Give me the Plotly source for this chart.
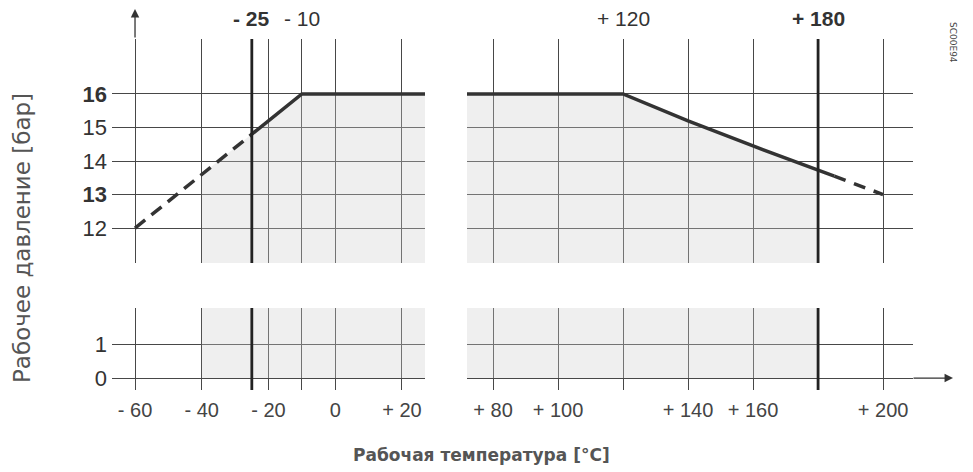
import plotly.graph_objects as go

# ---- data ----
curve_temps = [-60, -25, -10, 120, 140, 160, 180, 185, 200]
curve_pressure = [12.0, 14.8, 16.0, 16.0, 15.2, 14.45, 13.72, 13.55, 13.0]

fill_temps = [-40, -25, -10, 120, 140, 160, 180]
fill_pressure = [13.6, 14.8, 16.0, 16.0, 15.2, 14.45, 13.72]

left_ticks = [-60, -40, -25, -20, -10, 0, 20]
left_labels = ["- 60", "- 40", "", "- 20", "", "0", "+ 20"]
right_ticks = [80, 100, 120, 140, 160, 180, 200]
right_labels = ["+ 80", "+ 100", "", "+ 140", "+ 160", "", "+ 200"]

top_marks = [-25, -10, 120, 180]
top_mark_labels = ["- 25", "- 10", "+ 120", "+ 180"]
top_mark_bold = [True, False, False, True]
limit_temps = [-25, 180]

upper_p_ticks = [12, 13, 14, 15, 16]
upper_p_labels = ["12", "<b>13</b>", "14", "15", "<b>16</b>"]
lower_p_ticks = [0, 1]
lower_p_labels = ["0", "1"]

y_title = "Рабочее давление [бар]"
x_title = "Рабочая температура [°C]"
code_text = "SC00E94"

OFF = 8  # page body margin
W, H = 973 - OFF, 472 - OFF
def px(x): return (x - OFF) / W
def py(y): return 1 - (y - OFF) / H

GRID = "#474747"
LINE = "#333333"
FILL = "rgba(205,205,205,0.33)"

fig = go.Figure()

# shaded area under the curve in all four panels
for xa in ["x", "x2"]:
    for ya in ["y", "y2"]:
        fig.add_trace(go.Scatter(x=fill_temps, y=fill_pressure, xaxis=xa, yaxis=ya,
                                 mode="lines", line=dict(width=0), fill="tozeroy",
                                 fillcolor=FILL, hoverinfo="skip", showlegend=False))

# curve: dashed - solid - dashed
segs = [(0, 2, "13px,8px"), (1, 8, "solid"), (7, 9, "12px,9px")]
for xa in ["x", "x2"]:
    for a, b, d in segs:
        fig.add_trace(go.Scatter(x=curve_temps[a:b], y=curve_pressure[a:b], xaxis=xa, yaxis="y",
                                 mode="lines", line=dict(color=LINE, width=3.5, dash=d),
                                 hoverinfo="skip", showlegend=False))

tickfont_x = dict(family="Liberation Sans, Arial", size=20, color="#444")
tickfont_y = dict(family="Liberation Sans, Arial", size=22, color="#333")

common_x = dict(showgrid=True, gridcolor=GRID, gridwidth=1, zeroline=False, showline=False,
                ticks="", tickfont=tickfont_x, anchor="y2", fixedrange=True, ticklabelstandoff=6)
common_y = dict(showgrid=True, gridcolor=GRID, gridwidth=1, zeroline=False, showline=False,
                ticks="", tickfont=tickfont_y, fixedrange=True, anchor="x", ticklabelstandoff=4)
fig.update_layout(
    width=W, height=H, margin=dict(l=0, r=0, t=0, b=0),
    paper_bgcolor="white", plot_bgcolor="rgba(0,0,0,0)", showlegend=False,
    xaxis=dict(domain=[px(112), px(425)], range=[-66.9, 26.9], tickmode="array",
               tickvals=left_ticks, ticktext=left_labels, **common_x),
    xaxis2=dict(domain=[px(467), px(913)], range=[72, 209.2], tickmode="array",
                tickvals=right_ticks, ticktext=right_labels, **common_x),
    yaxis=dict(domain=[py(263), py(39)], range=[10.96, 17.64], tickmode="array",
               tickvals=upper_p_ticks, ticktext=upper_p_labels, **common_y),
    yaxis2=dict(domain=[py(390), py(308)], range=[-0.35, 2.06], tickmode="array",
                tickvals=lower_p_ticks, ticktext=lower_p_labels, **common_y),
)

# thick limit lines
shapes = []
for t in limit_temps:
    xa = "x" if t < 50 else "x2"
    for ya in ["y", "y2"]:
        shapes.append(dict(type="line", xref=xa, yref=ya + " domain", x0=t, x1=t, y0=0, y1=1,
                           line=dict(color="#222", width=2.8)))
fig.update_layout(shapes=shapes)

ann = []
for t, lab, b in zip(top_marks, top_mark_labels, top_mark_bold):
    ann.append(dict(x=t, xref="x" if t < 50 else "x2", y=py(18), yref="paper",
                    xanchor="center", yanchor="middle",
                    text=f"<b>{lab}</b>" if b else lab, showarrow=False,
                    font=dict(family="Liberation Sans, Arial", size=21, color="#333")))
# axis arrows
ann.append(dict(x=-60, xref="x", y=py(8), yref="paper", ax=0, ay=31, text="",
                showarrow=True, arrowhead=2, arrowsize=1.3, arrowwidth=1.3, arrowcolor="#333"))
ann.append(dict(x=px(953), xref="paper", y=0, yref="y2", ax=-41, ay=0, text="",
                showarrow=True, arrowhead=2, arrowsize=1.3, arrowwidth=1.3, arrowcolor="#333"))
ann.append(dict(x=px(22), xref="paper", y=py(238), yref="paper", text=y_title, textangle=-90,
                xanchor="center", yanchor="middle",
                showarrow=False, font=dict(family="DejaVu Sans", size=23, color="#555")))
ann.append(dict(x=px(481), xref="paper", y=py(455), yref="paper", text=f"<b>{x_title}</b>",
                xanchor="center", yanchor="middle",
                showarrow=False, font=dict(family="DejaVu Sans", size=17, color="#555")))
ann.append(dict(x=px(953), xref="paper", y=py(42), yref="paper", text=code_text, textangle=90,
                xanchor="center", yanchor="middle",
                showarrow=False, font=dict(family="DejaVu Sans", size=9, color="#444")))
fig.update_layout(annotations=ann)

fig.write_html("out.html")
